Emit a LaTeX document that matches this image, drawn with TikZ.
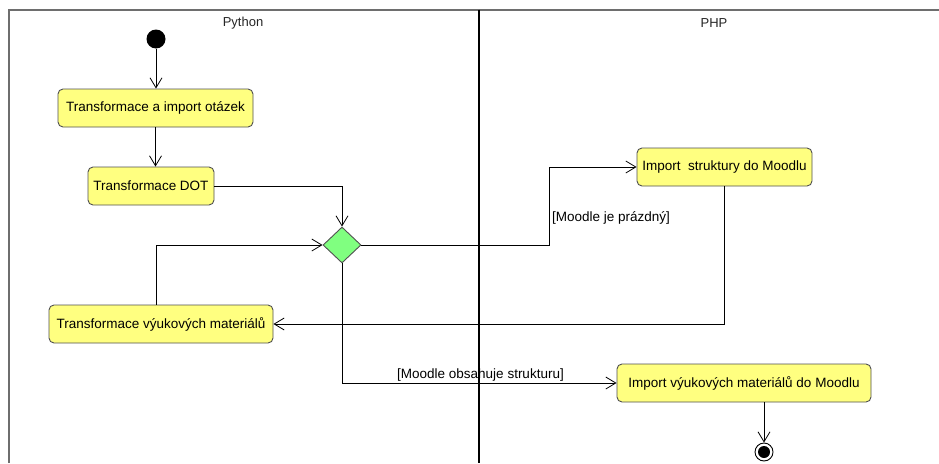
\documentclass[tikz,border=0pt]{standalone}
\usepackage{fontspec}
\setmainfont{Liberation Sans}
\usetikzlibrary{arrows.meta,shapes.geometric}
\definecolor{actfill}{RGB}{255,255,128}
\definecolor{decfill}{RGB}{128,255,128}
\definecolor{bordergrey}{RGB}{80,80,80}
\definecolor{framegrey}{RGB}{110,110,110}
\tikzset{
  action/.style={draw=bordergrey, fill=actfill, rounded corners=5pt, line width=0.9pt,
    minimum height=38pt, inner sep=0pt, font=\fontsize{13.5}{15}\selectfont},
  decision/.style={draw=bordergrey, fill=decfill, diamond, aspect=1.05, line width=0.9pt,
    minimum width=38pt, minimum height=36pt, inner sep=0pt},
  flow/.style={draw=black, line width=0.8pt, -{Straight Barb[length=10pt,width=12pt,line width=0.8pt]}},
  lane/.style={font=\fontsize{13}{15}\selectfont, text=black!85},
  guard/.style={font=\fontsize{13.5}{15}\selectfont, inner sep=0pt},
}
\begin{document}
\begin{tikzpicture}[x=1pt,y=-1pt]
\useasboundingbox (0,0) rectangle (939,463);
\fill[white] (0,0) rectangle (939,463);
% swimlane frame
\draw[framegrey, line width=2pt] (9,463) -- (9,9.5) -- (939,9.5);
\draw[black, line width=2pt] (479,9.5) -- (479,463);
\node[lane] (lpy) at (243,23) {Python};
\node[lane] (lphp) at (714,23) {PHP};
% nodes
\node[circle, fill=black, minimum size=19pt, inner sep=0pt] (start) at (156,39) {};
\node[action, minimum width=195pt] (n1) at (155.5,108) {Transformace a import otázek};
\node[action, minimum width=126pt] (n2) at (151,186) {Transformace DOT};
\node[action, minimum width=224pt] (n3) at (161,324) {Transformace výukových materiálů};
\node[decision] (dia) at (342,245) {};
\node[action, minimum width=175pt] (n4) at (724.5,167) {Import \ struktury do Moodlu};
\node[action, minimum width=254pt] (n5) at (744,383) {Import výukových materiálů do Moodlu};
\node[circle, draw=black, fill=white, line width=0.9pt, minimum size=18pt, inner sep=0pt] (final) at (764,452) {};
\node[circle, fill=black, minimum size=12pt, inner sep=0pt] (finaldot) at (final) {};
\coordinate (c1) at (549,245);
% connectors
\draw[flow] (start) -- (start |- n1.north);
\draw[flow] (n1.south) -- (n1.south |- n2.north);
\draw[flow] (n2.east) -| (dia.north);
\draw[flow] ([xshift=-5pt]n3.north) |- (dia.west);
\draw[flow] (dia.east) -- (c1) |- (n4.west);
\draw[flow] (n4.south) |- (n3.east);
\draw[flow] (dia.south) |- (n5.west);
\draw[flow] (final |- n5.south) -- (final.north);
% guards
\node[guard, anchor=west] (g1) at (552,218) {[Moodle je prázdný]};
\node[guard, anchor=west] (g2) at (397,375) {[Moodle obsahuje strukturu]};
\end{tikzpicture}
\end{document}
